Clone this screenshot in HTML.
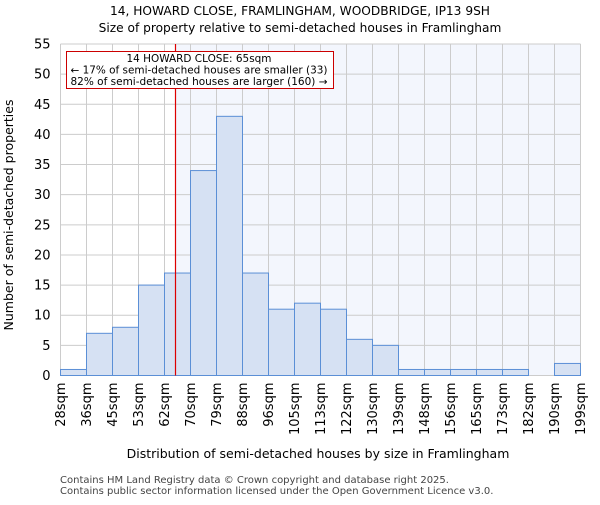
<!DOCTYPE html>
<html><head><meta charset="utf-8"><style>
body{margin:0;background:#fff;}
svg{font-family:"DejaVu Sans","Liberation Sans",sans-serif;}
</style></head><body>
<svg id="chart" width="600" height="500" viewBox="0 0 600 500">
<text x="300" y="15" text-anchor="middle" font-size="12.2">14, HOWARD CLOSE, FRAMLINGHAM, WOODBRIDGE, IP13 9SH</text>
<text x="300" y="32" text-anchor="middle" font-size="12.2">Size of property relative to semi-detached houses in Framlingham</text>
<rect x="60.5" y="44" width="520" height="331.5" fill="#fff"/>
<rect id="shade" y="44" height="331.5" fill="#f3f6fd"/>
<g id="grid"></g>
<g id="bars"></g>
<g id="marker"></g>
<g id="yaxis"></g>
<g id="xaxis"></g>
<text transform="translate(13,215) rotate(-90)" text-anchor="middle" font-size="12.5">Number of semi-detached properties</text>
<text x="318" y="458" text-anchor="middle" font-size="12.5">Distribution of semi-detached houses by size in Framlingham</text>
<text x="60" y="483" font-size="10" fill="#444">Contains HM Land Registry data © Crown copyright and database right 2025.</text>
<text x="60" y="494" font-size="10" fill="#444">Contains public sector information licensed under the Open Government Licence v3.0.</text>
<g>
<rect x="66.5" y="51.5" width="267" height="37" fill="#fff" stroke="#cc0000" stroke-width="1"/>
<text x="199" y="62" text-anchor="middle" font-size="10.3" textLength="145" lengthAdjust="spacingAndGlyphs">14 HOWARD CLOSE: 65sqm</text>
<text x="199" y="73.5" text-anchor="middle" font-size="10.3" textLength="257" lengthAdjust="spacingAndGlyphs">← 17% of semi-detached houses are smaller (33)</text>
<text x="199" y="85" text-anchor="middle" font-size="10.3" textLength="257" lengthAdjust="spacingAndGlyphs">82% of semi-detached houses are larger (160) →</text>
</g>
</svg>
<script>
const binLabels=["28sqm","36sqm","45sqm","53sqm","62sqm","70sqm","79sqm","88sqm","96sqm","105sqm","113sqm","122sqm","130sqm","139sqm","148sqm","156sqm","165sqm","173sqm","182sqm","190sqm","199sqm"];
const counts=[1,7,8,15,17,34,43,17,11,12,11,6,5,1,1,1,1,1,0,2];
const yTicks=[0,5,10,15,20,25,30,35,40,45,50,55];
const markerBin=4.42;
const NS="http://www.w3.org/2000/svg";
const L=60.5,R=580.5,T=44,B=375.5,yMax=55;
const bw=(R-L)/counts.length;
const xs=i=>L+i*bw;
const ys=v=>B-(v/yMax)*(B-T);
function mk(tag,attrs,parent){const e=document.createElementNS(NS,tag);for(const k in attrs)e.setAttribute(k,attrs[k]);document.getElementById(parent).appendChild(e);return e;}
const mx=Math.round(xs(markerBin))+0.5;
const sh=document.getElementById('shade');sh.setAttribute('x',mx);sh.setAttribute('width',R-mx);
yTicks.forEach(v=>{
 const g=mk('line',{x1:L,x2:R,y1:ys(v),y2:ys(v),stroke:'#ccc','stroke-width':1},'grid');
 
 
 const t=mk('text',{x:L-10,y:ys(v)+4.5,'text-anchor':'end','font-size':13},'yaxis');
 t.textContent=v;
 
 
});
binLabels.forEach((lb,i)=>{
 const g=mk('line',{x1:xs(i),x2:xs(i),y1:T,y2:B,stroke:'#ccc','stroke-width':1},'grid');
 
 
 const t=mk('text',{transform:`translate(${xs(i)+4.5},${B+7}) rotate(-90)`,'text-anchor':'end','font-size':13},'xaxis');
 t.textContent=lb;
 
 
});
counts.forEach((c,i)=>{
 if(c<=0)return;
 const r=mk('rect',{x:xs(i),y:ys(c),width:bw,height:B-ys(c),fill:'#d6e1f3',stroke:'#5b8fd6','stroke-width':1},'bars');
 
 
});
const ml=mk('line',{x1:mx,x2:mx,y1:T,y2:B,stroke:'#dd0000','stroke-width':1.2},'marker');


</script>
</body></html>
